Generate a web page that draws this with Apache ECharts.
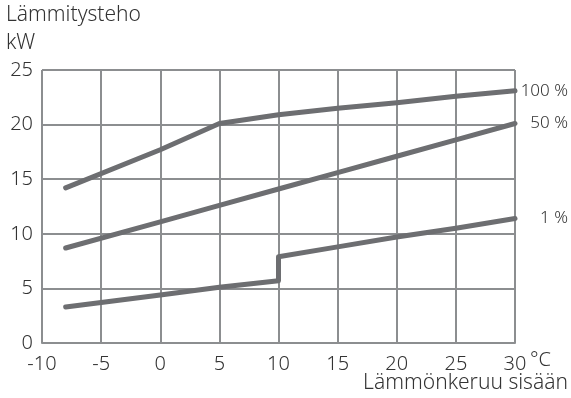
<!DOCTYPE html>
<html><head><meta charset="utf-8">
<script src="https://cdn.jsdelivr.net/npm/echarts@6/dist/echarts.min.js"></script>
<style>html,body{margin:0;padding:0;background:#fff}#c{width:571px;height:398px}</style>
</head><body><div id="c"></div>
<script>
const xTicks = [-10, -5, 0, 5, 10, 15, 20, 25, 30];
const yTicks = [0, 5, 10, 15, 20, 25];
const s100 = [[-8, 14.2], [0, 17.7], [5, 20.1], [10, 20.9], [15, 21.5], [20, 22.0], [25, 22.6], [30, 23.1]];
const s50 = [[-8, 8.7], [0, 11.1], [5, 12.6], [10, 14.1], [15, 15.6], [20, 17.1], [25, 18.6], [30, 20.1]];
const s1 = [[-8, 3.3], [0, 4.4], [5, 5.1], [10, 5.7], [10, 7.9], [15, 8.8], [20, 9.7], [25, 10.5], [30, 11.4]];
const seriesNames = ['100 %', '50 %', '1 %'];
const yTitle = ['Lämmitysteho', 'kW'];
const xTitle = 'Lämmönkeruu sisään';
const xUnit = '°C';

const font = '"Noto Sans", "Open Sans", sans-serif';
const lineColor = '#6d6e71';
const gridColor = '#8c8e90';
const textColor = '#333333';

const chart = echarts.init(document.getElementById('c'), null, {renderer: 'canvas'});
function mk(name, data) {
  return {
    type: 'line', name, data, showSymbol: false, symbol: 'none',
    lineStyle: {color: lineColor, width: 5, cap: 'round', join: 'round'},
    itemStyle: {color: lineColor},
    endLabel: {show: true, formatter: name, align: 'right', distance: 53,
      color: textColor, fontSize: 17, fontWeight: 300, fontFamily: font},
    animation: false
  };
}
chart.setOption({
  animation: false,
  grid: {left: 42, right: 56, top: 70, bottom: 55},
  xAxis: {
    type: 'value', min: -10, max: 30, interval: 5,
    axisLine: {show: true, lineStyle: {color: gridColor, width: 2}},
    axisTick: {show: false},
    splitLine: {show: true, lineStyle: {color: gridColor, width: 2}},
    axisLabel: {color: textColor, fontSize: 20, fontWeight: 300, fontFamily: font, margin: 11,
      formatter: v => xTicks.includes(v) ? String(v) : ''}
  },
  yAxis: {
    type: 'value', min: 0, max: 25, interval: 5,
    axisLine: {show: true, lineStyle: {color: gridColor, width: 2}},
    axisTick: {show: false},
    splitLine: {show: true, lineStyle: {color: gridColor, width: 2}},
    axisLabel: {color: textColor, fontSize: 20, fontWeight: 300, fontFamily: font, margin: 9,
      formatter: v => yTicks.includes(v) ? String(v) : ''}
  },
  series: [mk(seriesNames[0], s100), mk(seriesNames[1], s50), mk(seriesNames[2], s1)],
  graphic: [
    {type: 'text', left: 6, top: 5, style: {text: yTitle[0], fill: textColor, font: '300 21px ' + font}},
    {type: 'text', left: 6, top: 33, style: {text: yTitle[1], fill: textColor, font: '300 21px ' + font}},
    {type: 'text', left: 530, top: 350, style: {text: xUnit, fill: textColor, font: '300 20px ' + font}},
    {type: 'text', right: 3, top: 373, style: {text: xTitle, fill: textColor, font: '300 21px ' + font}}
  ]
});
</script></body></html>
